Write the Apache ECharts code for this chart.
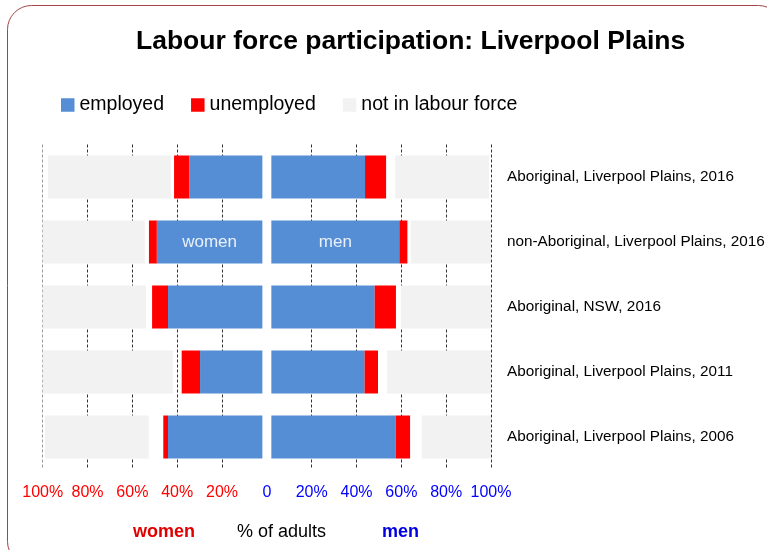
<!DOCTYPE html>
<html>
<head>
<meta charset="utf-8">
<script src="https://cdn.jsdelivr.net/npm/echarts@6/dist/echarts.min.js"></script>
<style>
  html, body { margin: 0; padding: 0; background: #fff; }
  #chart { width: 767px; height: 550px; }
</style>
</head>
<body>
<div id="chart"></div>
<script>
// rows, top to bottom
var categories = [
  'Aboriginal, Liverpool Plains, 2016',
  'non-Aboriginal, Liverpool Plains, 2016',
  'Aboriginal, NSW, 2016',
  'Aboriginal, Liverpool Plains, 2011',
  'Aboriginal, Liverpool Plains, 2006'
]
// % of adults (gap = the blank between unemployed and not in labour force)
var womenEmployed = [32.6, 47.1, 42.1, 27.8, 42.1]
var womenUnemployed = [6.8, 3.5, 7.1, 8.2, 2.1]
var womenGap = [1.4, 1.8, 2.7, 3.9, 6.5]
var womenNotInLF = [54.8, 45.6, 46.1, 58.1, 46.3]
var menEmployed = [41.8, 57.1, 46.1, 41.6, 55.5]
var menUnemployed = [9.4, 3.6, 9.5, 6.0, 6.4]
var menGap = [4.0, 1.5, 2.2, 4.0, 5.2]
var menNotInLF = [41.9, 35.8, 40.2, 46.4, 30.9]
var centreSpacer = [2, 2, 2, 2, 2]
var tickValues = [-100, -80, -60, -40, -20, 0, 20, 40, 60, 80, 100]

var font = 'Liberation Sans, Arial, sans-serif'
var blue = '#558ed5'
var red = '#ff0000'
var grey = '#f2f2f2'

function neg(arr) {
  return arr.map(function (v) { return -v })
}

function bar(name, values, color, labelText) {
  return {
    name: name,
    type: 'bar',
    stack: 'all',
    barWidth: 43,
    silent: name === 'spacer',
    itemStyle: { color: color },
    data: values.map(function (v, i) {
      // write "women" / "men" inside the second row's employed bars
      if (labelText && i === 1) {
        return {
          value: v,
          label: {
            show: true, position: 'inside', formatter: labelText,
            color: '#eaf0f9', fontSize: 17, fontFamily: font
          }
        }
      }
      return v
    })
  }
}

// dashed vertical lines, none at 0, faint at left edge
var lineColors = tickValues.map(function (t) {
  if (t === 0) return 'rgba(0,0,0,0)'
  if (t === -100) return '#999'
  return '#333'
})

var myChart = echarts.init(document.getElementById('chart'))
var option = {
  animation: false,
  textStyle: { fontFamily: font },
  title: {
    text: 'Labour force participation: Liverpool Plains',
    left: 131,
    top: 23,
    textStyle: { fontSize: 26.5, fontWeight: 'bold', color: '#000', fontFamily: font }
  },
  legend: {
    data: ['employed', 'unemployed', 'not in labour force'],
    left: 56,
    top: 90,
    icon: 'rect',
    itemWidth: 13.5,
    itemHeight: 13.5,
    itemGap: 27,
    textStyle: { fontSize: 19.5, color: '#000', fontFamily: font }
  },
  grid: {
    left: 42.7, right: 276, top: 144.5, bottom: 80.5,
    containLabel: false, outerBoundsMode: 'none'
  },
  xAxis: {
    type: 'value',
    min: -100,
    max: 100,
    interval: 20,
    axisLine: { show: false },
    axisTick: { show: false },
    splitLine: { show: true, lineStyle: { color: lineColors, type: [3, 2], width: 1 } },
    axisLabel: {
      margin: 15,
      fontSize: 16,
      fontFamily: font,
      formatter: function (v) {
        if (v === 0) return '{b|0}'
        return (v < 0 ? '{r|' : '{b|') + Math.abs(v) + '%}'
      },
      rich: {
        r: { color: red, fontSize: 16, fontFamily: font },
        b: { color: '#0000ff', fontSize: 16, fontFamily: font }
      }
    }
  },
  yAxis: {
    type: 'category',
    data: categories,
    inverse: true,
    position: 'right',
    axisLine: { show: false },
    axisTick: { show: false },
    splitLine: { show: false },
    axisLabel: { margin: 16, align: 'left', fontSize: 15.3, color: '#000', fontFamily: font }
  },
  series: [
    bar('spacer', neg(centreSpacer), 'rgba(0,0,0,0)'),
    bar('employed', neg(womenEmployed), blue, 'women'),
    bar('unemployed', neg(womenUnemployed), red),
    bar('spacer', neg(womenGap), 'rgba(0,0,0,0)'),
    bar('not in labour force', neg(womenNotInLF), grey),
    bar('spacer', centreSpacer, 'rgba(0,0,0,0)'),
    bar('employed', menEmployed, blue, 'men'),
    bar('unemployed', menUnemployed, red),
    bar('spacer', menGap, 'rgba(0,0,0,0)'),
    bar('not in labour force', menNotInLF, grey)
  ],
  graphic: [
    {
      type: 'rect', silent: true, z: -10,
      shape: { x: 7.5, y: 5.5, width: 775, height: 560, r: 24 },
      style: { fill: 'none', stroke: '#a04646', lineWidth: 1 }
    },
    {
      type: 'text', left: 133, top: 523,
      style: { text: 'women', fill: '#e00000', font: 'bold 18px ' + font }
    },
    {
      type: 'text', left: 237, top: 523,
      style: { text: '% of adults', fill: '#000', font: '18px ' + font }
    },
    {
      type: 'text', left: 382, top: 523,
      style: { text: 'men', fill: '#0000e0', font: 'bold 18px ' + font }
    }
  ]
}
myChart.setOption(option)
</script>
</body>
</html>
